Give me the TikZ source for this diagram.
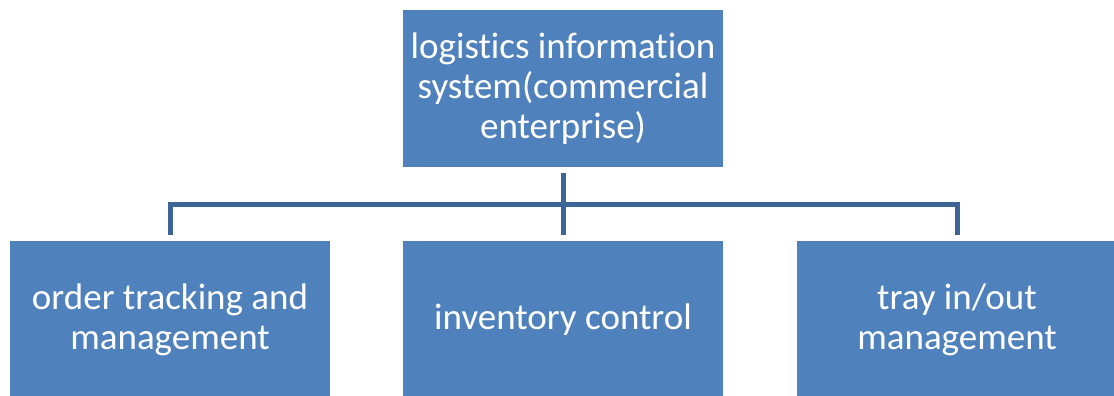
\documentclass[tikz,border=0pt]{standalone}
\usepackage{fontspec}
\setmainfont[Ligatures=NoCommon]{Carlito}
\usetikzlibrary{calc}
\definecolor{boxblue}{HTML}{4F81BD}
\definecolor{linkblue}{HTML}{3D6596}

\begin{document}
\begin{tikzpicture}[x=1pt,y=1pt,
    unit/.style={fill=boxblue, text=white, minimum width=320pt, minimum height=157pt,
      inner sep=0pt, align=center, font=\fontsize{37}{40}\selectfont},
    link/.style={draw=linkblue, line width=5pt}]
\useasboundingbox (0,0) rectangle (1114,396);

% Boite du haut
\node[unit] (sys) at (563,307) {logistics information\\system(commercial\\enterprise)};

% Boites du bas
\node[unit] (order) at (170,76) {order tracking and\\management};
\node[unit] (stock) at (563,76) {inventory control};
\node[unit] (tray) at (957,76) {tray in/out\\management};

% Liaisons
\draw[link] ([yshift=-5pt]sys.south) -- ([yshift=6pt]stock.north);
\draw[link] ([yshift=6pt]order.north) -- ++(0,31) -| ([yshift=6pt]tray.north);
\end{tikzpicture}
\end{document}
